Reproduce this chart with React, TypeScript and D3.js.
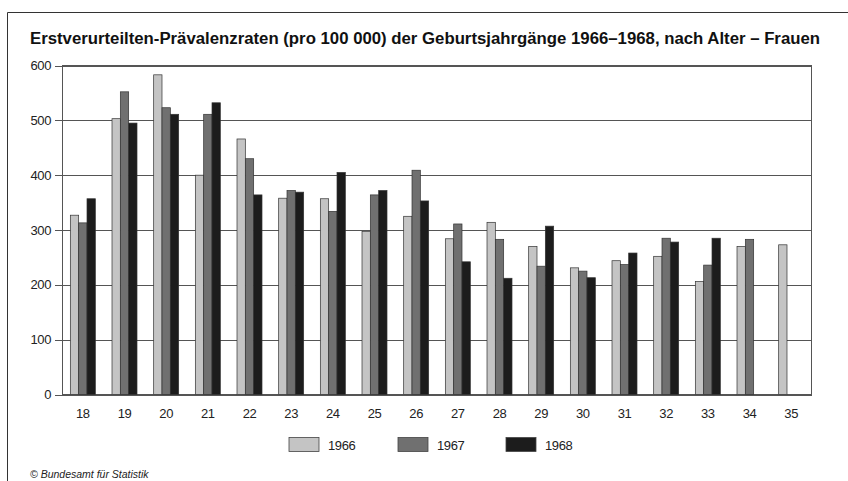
import React from "react";
import * as d3 from "d3";

const ages = ["18","19","20","21","22","23","24","25","26","27","28","29","30","31","32","33","34","35"];
const v1966 = [327, 503, 583, 400, 466, 358, 357, 297, 325, 284, 314, 270, 231, 244, 252, 206, 270, 273];
const v1967 = [313, 552, 523, 511, 430, 372, 334, 364, 409, 311, 283, 234, 225, 237, 285, 236, 283, null];
const v1968 = [357, 495, 511, 532, 364, 369, 405, 372, 353, 242, 212, 307, 213, 258, 278, 285, null, null];
const seriesNames = ["1966", "1967", "1968"];
const seriesColors = ["#c4c4c4", "#707070", "#1c1c1c"];
const yTicks = [0, 100, 200, 300, 400, 500, 600];
const title = "Erstverurteilten-Prävalenzraten (pro 100 000) der Geburtsjahrgänge 1966–1968, nach Alter – Frauen";
const source = "© Bundesamt für Statistik";

export default function App() {
  const W = 848, H = 481;
  const left = 62, right = 812, top = 65.5, bottom = 394.5;
  const x = d3.scaleBand<string>().domain(ages).range([left, right]).paddingInner(0.4).paddingOuter(0.2);
  const xs = d3.scaleBand<string>().domain(seriesNames).range([0, x.bandwidth()]);
  const y = d3.scaleLinear().domain([0, 600]).range([bottom, top]);
  const data = [v1966, v1967, v1968];
  const font = "'Liberation Sans', Arial, sans-serif";
  const legendX = [289, 398, 506];
  return (
    <svg width={W} height={H} style={{ position: "absolute", left: 0, top: 0, background: "#fff" }} fontFamily={font}>
      <rect x={0} y={0} width={W} height={H} fill="#fff" />
      <path d={`M7.5,${H} V12.5 H${W}`} fill="none" stroke="#333" strokeWidth={1} />
      <text x={30} y={44} fontSize={16} fontWeight="bold" fill="#111" textLength={790} lengthAdjust="spacingAndGlyphs">{title}</text>
      {yTicks.map(t => (
        <g key={t}>
          <line x1={left} x2={right} y1={Math.round(y(t)) + 0.5} y2={Math.round(y(t)) + 0.5} stroke="#555" strokeWidth={1} />
          <line x1={55} x2={left} y1={Math.round(y(t)) + 0.5} y2={Math.round(y(t)) + 0.5} stroke="#555" strokeWidth={1} />
          <text x={51} y={y(t) + 4.5} textAnchor="end" fontSize={13} letterSpacing={-0.4} fill="#222">{t}</text>
        </g>
      ))}
      <rect x={left + 0.5} y={top} width={right - left - 1} height={bottom - top} fill="none" stroke="#555" strokeWidth={1} />
      {data.map((vals, si) => (
        <g key={si}>
          {vals.map((v, i) => v == null ? null : (
            <rect key={i} x={(x(ages[i]) as number) + (xs(seriesNames[si]) as number)} y={y(v)} width={xs.bandwidth()} height={bottom - y(v)} fill={seriesColors[si]} stroke="#333" strokeWidth={0.7} />
          ))}
        </g>
      ))}
      {ages.map(a => (
        <text key={a} x={(x(a) as number) + x.bandwidth() / 2} y={418} textAnchor="middle" fontSize={13} letterSpacing={-0.4} fill="#222">{a}</text>
      ))}
      {seriesNames.map((s, i) => (
        <g key={s}>
          <rect x={legendX[i]} y={437.5} width={30} height={14} fill={seriesColors[i]} stroke="#444" strokeWidth={0.8} />
          <text x={legendX[i] + 39} y={450} fontSize={13} letterSpacing={-0.4} fill="#222">{s}</text>
        </g>
      ))}
      <text x={30} y={478} fontSize={10.5} fontStyle="italic" fill="#222">{source}</text>
    </svg>
  );
}
